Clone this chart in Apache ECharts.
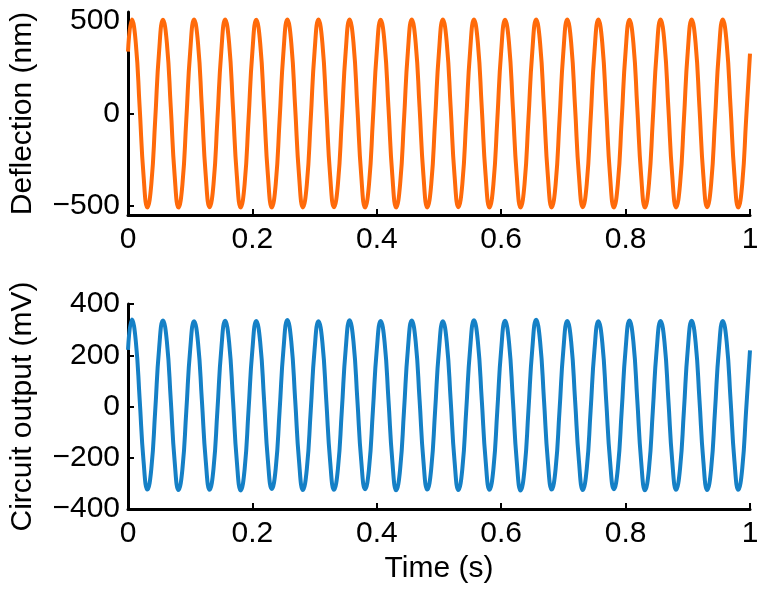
<!doctype html>
<html>
<head>
<meta charset="utf-8">
<script src="https://cdn.jsdelivr.net/npm/echarts@6/dist/echarts.min.js"></script>
<style>
    html, body {margin: 0; padding: 0; background: #fff;}
    #chart {width: 762px; height: 593px;}
</style>
</head>
<body>
<div id="chart"></div>
<script>
    // time samples (s)
    var time = [
        0, 0.00625, 0.0125, 0.01875, 0.025, 0.03125, 0.0375, 0.04375,
        0.05, 0.05625, 0.0625, 0.06875, 0.075, 0.08125, 0.0875, 0.09375,
        0.1, 0.10625, 0.1125, 0.11875, 0.125, 0.13125, 0.1375, 0.14375,
        0.15, 0.15625, 0.1625, 0.16875, 0.175, 0.18125, 0.1875, 0.19375,
        0.2, 0.20625, 0.2125, 0.21875, 0.225, 0.23125, 0.2375, 0.24375,
        0.25, 0.25625, 0.2625, 0.26875, 0.275, 0.28125, 0.2875, 0.29375,
        0.3, 0.30625, 0.3125, 0.31875, 0.325, 0.33125, 0.3375, 0.34375,
        0.35, 0.35625, 0.3625, 0.36875, 0.375, 0.38125, 0.3875, 0.39375,
        0.4, 0.40625, 0.4125, 0.41875, 0.425, 0.43125, 0.4375, 0.44375,
        0.45, 0.45625, 0.4625, 0.46875, 0.475, 0.48125, 0.4875, 0.49375,
        0.5, 0.50625, 0.5125, 0.51875, 0.525, 0.53125, 0.5375, 0.54375,
        0.55, 0.55625, 0.5625, 0.56875, 0.575, 0.58125, 0.5875, 0.59375,
        0.6, 0.60625, 0.6125, 0.61875, 0.625, 0.63125, 0.6375, 0.64375,
        0.65, 0.65625, 0.6625, 0.66875, 0.675, 0.68125, 0.6875, 0.69375,
        0.7, 0.70625, 0.7125, 0.71875, 0.725, 0.73125, 0.7375, 0.74375,
        0.75, 0.75625, 0.7625, 0.76875, 0.775, 0.78125, 0.7875, 0.79375,
        0.8, 0.80625, 0.8125, 0.81875, 0.825, 0.83125, 0.8375, 0.84375,
        0.85, 0.85625, 0.8625, 0.86875, 0.875, 0.88125, 0.8875, 0.89375,
        0.9, 0.90625, 0.9125, 0.91875, 0.925, 0.93125, 0.9375, 0.94375,
        0.95, 0.95625, 0.9625, 0.96875, 0.975, 0.98125, 0.9875, 0.99375,
        1
    ];

    // deflection (nm)
    var deflection = [
        335, 509, 383, 33, -337, -509, -383, -33,
        337, 508, 382, 34, -336, -510, -384, -33,
        336, 509, 383, 33, -337, -508, -382, -32,
        337, 510, 384, 33, -338, -509, -383, -34,
        336, 508, 382, 32, -337, -510, -383, -33,
        337, 509, 383, 33, -336, -509, -384, -33,
        338, 510, 383, 34, -337, -508, -382, -33,
        336, 509, 384, 33, -337, -509, -383, -32,
        337, 508, 382, 33, -338, -510, -383, -33,
        337, 509, 383, 34, -336, -509, -384, -34,
        336, 510, 383, 33, -337, -508, -383, -33,
        337, 509, 382, 32, -337, -509, -382, -33,
        338, 508, 384, 33, -336, -510, -383, -33,
        336, 509, 383, 33, -337, -509, -384, -34,
        337, 510, 383, 34, -338, -508, -383, -33,
        337, 509, 382, 33, -337, -509, -382, -32,
        336, 508, 383, 33, -336, -510, -383, -33,
        337, 509, 384, 32, -337, -509, -384, -33,
        338, 510, 383, 33, -337, -508, -383, -34,
        336, 509, 382, 34, -336, -509, -382, -33,
        325
    ];

    // circuit output (mV)
    var circuit = [
        221, 340, 256, 28, -213, -324, -243, -16,
        226, 336, 253, 26, -214, -326, -244, -17,
        223, 333, 251, 25, -212, -325, -242, -15,
        224, 335, 252, 27, -215, -328, -245, -16,
        222, 334, 252, 26, -213, -322, -242, -16,
        225, 338, 254, 27, -213, -326, -244, -17,
        223, 333, 251, 25, -214, -325, -243, -16,
        224, 337, 253, 26, -212, -323, -242, -15,
        223, 334, 252, 26, -213, -327, -245, -16,
        224, 336, 253, 27, -214, -324, -243, -17,
        222, 333, 251, 25, -213, -326, -244, -16,
        224, 337, 253, 26, -212, -325, -243, -15,
        223, 335, 252, 26, -214, -328, -245, -17,
        225, 339, 255, 27, -213, -324, -243, -16,
        223, 334, 252, 26, -213, -326, -244, -16,
        222, 333, 251, 25, -212, -323, -242, -15,
        224, 336, 253, 27, -214, -327, -245, -17,
        223, 334, 252, 26, -213, -325, -243, -16,
        224, 335, 252, 26, -213, -326, -244, -16,
        223, 334, 252, 26, -213, -325, -243, -16,
        219
    ];

    var xTicks = [0, 0.2, 0.4, 0.6, 0.8, 1];
    var defTicks = [-500, 0, 500];
    var circTicks = [-400, -200, 0, 200, 400];

    var font = 'Liberation Sans';
    function fmt(v) {
        return v < 0 ? '\u2212' + Math.abs(v) : String(v);
    }

    var myChart = echarts.init(document.getElementById('chart'));

    function xAxis(gridIndex) {
        return {
            type: 'value',
            gridIndex: gridIndex,
            min: xTicks[0],
            max: xTicks[xTicks.length - 1],
            interval: 0.2,
            axisLine: {onZero: false, lineStyle: {color: '#000', width: 3}},
            axisTick: {inside: true, length: 6, lineStyle: {color: '#000', width: 2}},
            axisLabel: {color: '#000', fontSize: 30, fontFamily: font, margin: 10},
            splitLine: {show: false}
        };
    }

    var option = {
        animation: false,
        backgroundColor: '#fff',
        grid: [
            {left: 126, right: 12, top: 12, height: 203},
            {left: 126, right: 12, top: 304, height: 205}
        ],
        xAxis: [
            xAxis(0),
            Object.assign(xAxis(1), {
                name: 'Time (s)',
                nameLocation: 'middle',
                nameGap: 45,
                nameTextStyle: {color: '#000', fontSize: 30, fontFamily: font}
            })
        ],
        yAxis: [
            {
                type: 'value',
                gridIndex: 0,
                min: -550,
                max: 550,
                name: 'Deflection (nm)',
                nameLocation: 'middle',
                nameGap: 90,
                nameTextStyle: {color: '#000', fontSize: 30, fontFamily: font},
                axisLine: {onZero: false, lineStyle: {color: '#000', width: 3}},
                axisTick: {inside: true, length: 6, customValues: defTicks, lineStyle: {color: '#000', width: 2}},
                axisLabel: {color: '#000', fontSize: 30, fontFamily: font, margin: 8,
                    customValues: defTicks, formatter: fmt},
                splitLine: {show: false}
            },
            {
                type: 'value',
                gridIndex: 1,
                min: circTicks[0],
                max: circTicks[circTicks.length - 1],
                interval: 200,
                name: 'Circuit output (mV)',
                nameLocation: 'middle',
                nameGap: 90,
                nameTextStyle: {color: '#000', fontSize: 30, fontFamily: font},
                axisLine: {onZero: false, lineStyle: {color: '#000', width: 3}},
                axisTick: {inside: true, length: 6, lineStyle: {color: '#000', width: 2}},
                axisLabel: {color: '#000', fontSize: 30, fontFamily: font, margin: 8, formatter: fmt},
                splitLine: {show: false}
            }
        ],
        series: [
            {
                type: 'line',
                xAxisIndex: 0,
                yAxisIndex: 0,
                smooth: true,
                showSymbol: false,
                lineStyle: {color: '#ff6a0a', width: 4},
                data: time.map(function (t, i) { return [t, deflection[i]]; })
            },
            {
                type: 'line',
                xAxisIndex: 1,
                yAxisIndex: 1,
                smooth: true,
                showSymbol: false,
                lineStyle: {color: '#1580c6', width: 4},
                data: time.map(function (t, i) { return [t, circuit[i]]; })
            }
        ]
    };

    myChart.setOption(option);
</script>
</body>
</html>
